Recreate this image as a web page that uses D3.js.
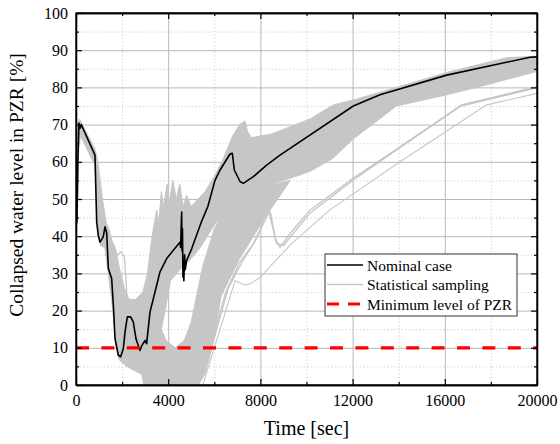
<!DOCTYPE html>
<html>
<head>
  <meta charset="UTF-8">
  <title>Collapsed water level in PZR</title>
  <script src="https://d3js.org/d3.v7.min.js"></script>
  <style>
    body { margin: 0; background: #fff; }
    .grid-major line { stroke: #b8b8b8; stroke-width: 1; }
    .grid-minor line { stroke: #d6d6d6; stroke-width: 1; stroke-dasharray: 1.5 2; }
  </style>
</head>
<body>
<div id="chart"></div>
<script>
  // nominal case (black)
  const nominalT = [0, 40, 80, 130, 180, 230, 824, 897, 968, 1041, 1180, 1258, 1330, 1403, 1547, 1620, 1692, 1837, 1938, 2053, 2126, 2227, 2372, 2487, 2603, 2777, 2850, 2994, 3067, 3096, 3210, 3427, 3644, 3934, 4223, 4512, 4540, 4570, 4585, 4600, 4620, 4640, 4660, 4680, 4710, 4740, 4800, 5018, 5450, 5720, 6030, 6250, 6681, 6782, 6868, 7115, 7260, 7694, 8272, 8850, 12032, 13189, 16083, 19696, 20000];
  const nominalV = [43, 44, 60, 70.4, 69, 70, 61.8, 43.8, 40.2, 38.4, 39.8, 42.5, 41, 31.3, 28.6, 21.5, 12.5, 8, 7.6, 9.8, 14.2, 18.3, 18.3, 16.9, 12.4, 9.3, 10.5, 12, 11.1, 13, 19.6, 25, 30.4, 34, 36.2, 38.4, 37, 44, 46.5, 36, 42, 29, 33, 28, 35, 31, 33.5, 36.6, 44, 48, 55, 57.8, 62.1, 62.3, 57.8, 54.7, 54.2, 56, 59.1, 61.8, 75, 78, 83.3, 88.1, 88.2];

  // statistical sampling: outline of the dense main group (upper edge, then lower edge back)
  const mainBandT = [0, 50, 150, 820, 950, 1050, 1150, 1300, 1450, 1700, 1900, 2100, 2300, 2600, 2900, 3100, 3300, 3500, 3600, 3700, 3800, 3950, 4050, 4200, 4350, 4500, 4650, 4800, 5000, 5300, 5600, 6000, 6400, 6800, 7100, 7330, 7450, 7620, 8500, 10150, 11160, 12030, 13900, 16080, 18700, 20000,
    20000, 18000, 16080, 13900, 12000, 11160, 10150, 9300, 8000, 7000, 6000, 5400, 5000, 4500, 4100, 3900, 3700, 3400, 3100, 2800, 2500, 2200, 2000, 1850, 1700, 1600, 1400, 1250, 1050, 950, 880, 820, 200, 120, 60, 0];
  const mainBandV = [45, 70, 71.5, 63.5, 60, 55, 50, 44, 40, 37, 31, 26, 23, 23, 25, 30, 40, 47, 44, 52, 48, 54, 49, 55, 50, 54, 48, 51, 48, 50, 52, 56, 61, 67, 70, 71, 68, 66.5, 67.5, 71.5, 75.3, 76.6, 80, 84, 88, 88.4,
    84.3, 81, 78, 75, 66, 61, 57.4, 55.6, 53, 49, 43, 37, 34, 31, 28, 21, 15, 10, 6, 3, 4, 5, 6, 7, 12, 20, 30, 37, 37.5, 43, 50, 59, 67, 64, 45, 40];

  // statistical sampling: delayed group that drains to zero, then refills
  const lateBandT = [2200, 2500, 2800, 2950, 5300, 5600, 5900, 6300, 7100, 7600, 8200, 9300, 8000, 7000, 6500, 6000, 5500, 5200, 5000, 4700, 4300, 3900, 3500, 3200, 2900, 2600, 2300];
  const lateBandV = [22, 13, 4, 0, 0, 3, 10, 24, 34, 39, 45, 55, 53, 49, 47, 42, 32, 23, 17, 12, 10, 12, 18, 22, 25, 23, 23];

  // statistical sampling: single visible runs
  const humpT = [950, 1200, 1440, 1663, 1807, 1952, 2098, 2170, 2242, 2386];
  const humpV = [52, 45, 41.7, 35.8, 35, 35.8, 34.5, 28.2, 21, 17.5];
  const outAT = [5200, 5600, 6000, 6500, 7100, 7700, 8000, 8300, 8450, 8650, 8850, 9300, 10150, 12000, 14056, 16733, 20000];
  const outAV = [0, 5, 14, 25, 33, 38, 42, 48, 46, 39, 37, 40.8, 47, 55.5, 64, 75.3, 80.2];
  const outBT = [5300, 5700, 6100, 6600, 7200, 7800, 8100, 8380, 8550, 8720, 9000, 10150, 12000, 14000, 16700, 20000];
  const outBV = [0, 6, 15, 26, 33, 39, 43, 46.5, 42, 38, 37.5, 46.2, 55, 63.6, 75, 79.9];
  const outCT = [5500, 5900, 6400, 6900, 7300, 7600, 8000, 9284, 11000, 14056, 17817, 20000];
  const outCV = [0, 8, 18, 28, 26.9, 27.3, 29, 37.6, 47, 60, 75.3, 78.4];

  const minLevel = 10;
  const xTicks = [0, 4000, 8000, 12000, 16000, 20000];
  const xMinor = [2000, 6000, 10000, 14000, 18000];
  const yTicks = [0, 10, 20, 30, 40, 50, 60, 70, 80, 90, 100];
  const yMinor = [5, 15, 25, 35, 45, 55, 65, 75, 85, 95];
  const legendLabels = ["Nominal case", "Statistical sampling", "Minimum level of PZR"];

  const serif = "Liberation Serif, Times New Roman, serif";
  const W = 560, H = 444;
  const margin = { top: 13, right: 23, bottom: 59, left: 76 };
  const width = W - margin.left - margin.right;
  const height = H - margin.top - margin.bottom;

  const x = d3.scaleLinear().domain([0, 20000]).range([0, width]);
  const y = d3.scaleLinear().domain([0, 100]).range([height, 0]);

  const zip = (ts, vs) => ts.map((t, i) => [t, vs[i]]);

  const svg = d3.select("#chart").append("svg")
    .attr("width", W).attr("height", H)
    .attr("font-family", serif);
  const g = svg.append("g").attr("transform", `translate(${margin.left},${margin.top})`);

  g.append("defs").append("clipPath").attr("id", "clip")
    .append("rect").attr("width", width).attr("height", height);

  // grid
  g.append("g").attr("class", "grid-minor")
    .call(d3.axisBottom(x).tickValues(xMinor).tickSize(height).tickFormat(""))
    .call(s => s.select(".domain").remove());
  g.append("g").attr("class", "grid-minor")
    .call(d3.axisLeft(y).tickValues(yMinor).tickSize(-width).tickFormat(""))
    .call(s => s.select(".domain").remove());
  g.append("g").attr("class", "grid-major")
    .call(d3.axisBottom(x).tickValues(xTicks).tickSize(height).tickFormat(""))
    .call(s => s.select(".domain").remove());
  g.append("g").attr("class", "grid-major")
    .call(d3.axisLeft(y).tickValues(yTicks).tickSize(-width).tickFormat(""))
    .call(s => s.select(".domain").remove());

  const plot = g.append("g").attr("clip-path", "url(#clip)");
  const line = d3.line().x(d => x(d[0])).y(d => y(d[1]));
  const poly = d3.line().x(d => x(d[0])).y(d => y(d[1])).curve(d3.curveLinearClosed);

  const gray = "#c6c6c6";
  plot.append("path").attr("d", poly(zip(mainBandT, mainBandV)))
    .attr("fill", gray).attr("stroke", gray).attr("stroke-width", 1);
  plot.append("path").attr("d", poly(zip(lateBandT, lateBandV)))
    .attr("fill", gray).attr("stroke", gray).attr("stroke-width", 1);

  [[humpT, humpV, 1.3], [outAT, outAV, 1.4], [outBT, outBV, 1.4], [outCT, outCV, 1.1]].forEach(([ts, vs, w]) => {
    plot.append("path").attr("d", line(zip(ts, vs)))
      .attr("fill", "none").attr("stroke", gray).attr("stroke-width", w);
  });

  plot.append("path").attr("d", line(zip(nominalT, nominalV)))
    .attr("fill", "none").attr("stroke", "#000").attr("stroke-width", 1.6)
    .attr("stroke-linejoin", "round");

  plot.append("line")
    .attr("x1", x(0)).attr("x2", x(20000))
    .attr("y1", y(minLevel)).attr("y2", y(minLevel))
    .attr("stroke", "#ff0000").attr("stroke-width", 3.2)
    .attr("stroke-dasharray", "13 12.4");

  // axes with inward ticks on all sides
  const axes = [];
  axes.push(g.append("g").attr("transform", `translate(0,${height})`)
    .call(d3.axisBottom(x).tickValues(xTicks).tickSizeInner(-6).tickSizeOuter(0).tickPadding(10).tickFormat(d3.format("d"))));
  axes.push(g.append("g").attr("transform", `translate(0,${height})`)
    .call(d3.axisBottom(x).tickValues(xMinor).tickSizeInner(-3).tickSizeOuter(0).tickFormat("")));
  axes.push(g.append("g")
    .call(d3.axisTop(x).tickValues(xTicks).tickSizeInner(-6).tickSizeOuter(0).tickFormat("")));
  axes.push(g.append("g")
    .call(d3.axisTop(x).tickValues(xMinor).tickSizeInner(-3).tickSizeOuter(0).tickFormat("")));
  axes.push(g.append("g")
    .call(d3.axisLeft(y).tickValues(yTicks).tickSizeInner(-6).tickSizeOuter(0).tickPadding(8)));
  axes.push(g.append("g")
    .call(d3.axisLeft(y).tickValues(yMinor).tickSizeInner(-3).tickSizeOuter(0).tickFormat("")));
  axes.push(g.append("g").attr("transform", `translate(${width},0)`)
    .call(d3.axisRight(y).tickValues(yTicks).tickSizeInner(-6).tickSizeOuter(0).tickFormat("")));
  axes.push(g.append("g").attr("transform", `translate(${width},0)`)
    .call(d3.axisRight(y).tickValues(yMinor).tickSizeInner(-3).tickSizeOuter(0).tickFormat("")));
  axes.forEach(a => {
    a.attr("font-family", serif).attr("font-size", 16);
    a.selectAll("text").attr("fill", "#000");
    a.selectAll(".tick line").attr("stroke", "#000").attr("stroke-width", 1.2);
    a.select(".domain").attr("stroke", "#000").attr("stroke-width", 1.3);
  });

  g.append("rect").attr("width", width).attr("height", height)
    .attr("fill", "none").attr("stroke", "#000").attr("stroke-width", 1.3);

  // axis titles
  svg.append("text")
    .attr("x", margin.left + width / 2).attr("y", 435)
    .attr("text-anchor", "middle").attr("font-size", 20)
    .text("Time [sec]");
  svg.append("text")
    .attr("transform", `translate(23,${margin.top + 172}) rotate(-90)`)
    .attr("text-anchor", "middle").attr("font-size", 19.5)
    .text("Collapsed water level in PZR [%]");

  // legend
  const lg = svg.append("g").attr("transform", "translate(325,254)");
  lg.append("rect").attr("width", 192).attr("height", 62)
    .attr("fill", "#fff").attr("stroke", "#333").attr("stroke-width", 1);
  const legendStyles = [
    { stroke: "#000", w: 1.6, dash: null },
    { stroke: gray, w: 1.4, dash: null },
    { stroke: "#ff0000", w: 3.2, dash: "12 9" }
  ];
  legendLabels.forEach((lab, i) => {
    const yy = 11 + i * 19.5;
    const st = legendStyles[i];
    lg.append("line").attr("x1", 2).attr("x2", 38).attr("y1", yy).attr("y2", yy)
      .attr("stroke", st.stroke).attr("stroke-width", st.w)
      .attr("stroke-dasharray", st.dash);
    lg.append("text").attr("x", 42).attr("y", yy + 5.5)
      .attr("font-size", 15.5).text(lab);
  });
</script>
</body>
</html>
